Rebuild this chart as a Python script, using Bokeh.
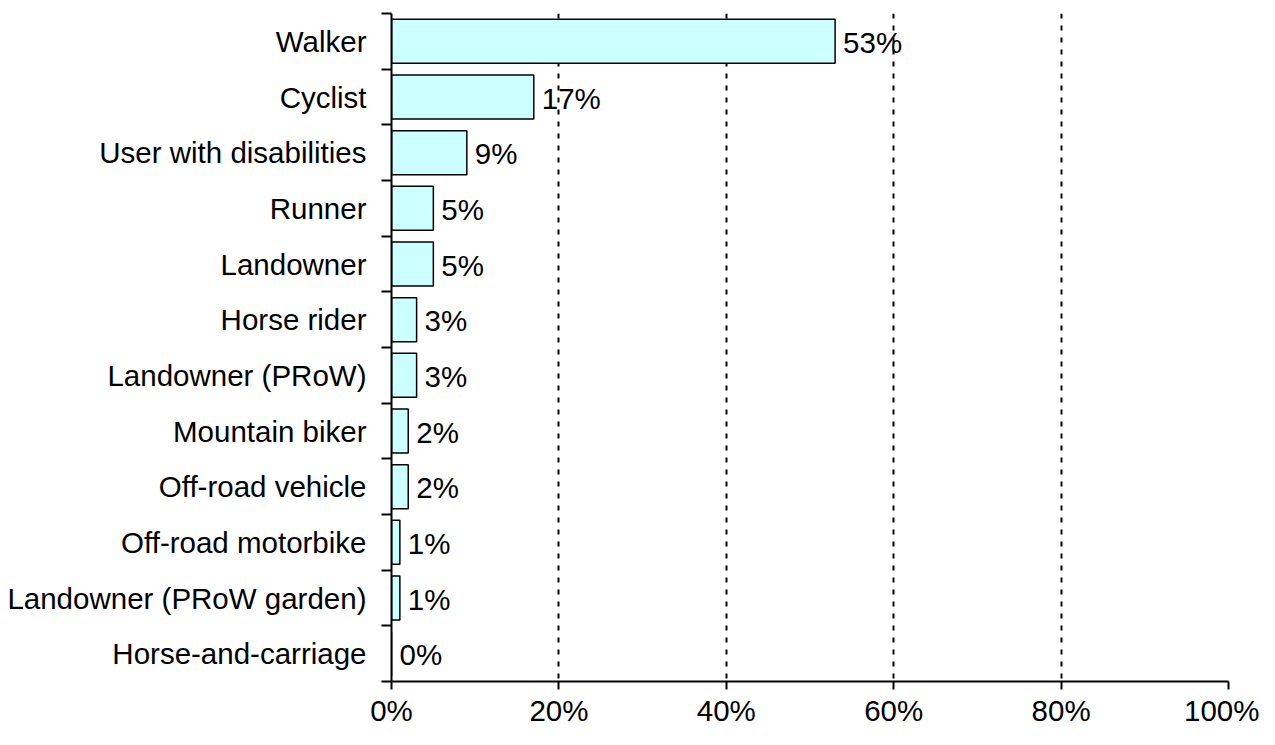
from bokeh.plotting import figure
from bokeh.models import Range1d, FixedTicker, PrintfTickFormatter, ColumnDataSource
from bokeh.core.properties import value
from bokeh.embed import file_html
from bokeh.resources import INLINE

categories = ["Walker", "Cyclist", "User with disabilities", "Runner", "Landowner",
              "Horse rider", "Landowner (PRoW)", "Mountain biker", "Off-road vehicle",
              "Off-road motorbike", "Landowner (PRoW garden)", "Horse-and-carriage"]
values = [53, 17, 9, 5, 5, 3, 3, 2, 2, 1, 1, 0]
x_ticks = [0, 20, 40, 60, 80, 100]

FONT = "Liberation Sans"
FS = "29.5px"

n = len(categories)
pos = list(range(n))
src = ColumnDataSource(dict(y=pos, v=values, lab=[f"{v}%" for v in values]))

p = figure(width=1259, height=729, output_backend="svg", toolbar_location=None,
           x_range=Range1d(0, 100), y_range=Range1d(n - 0.5, -0.5),
           min_border_left=391, min_border_right=31, min_border_top=13, min_border_bottom=45)
p.outline_line_color = None
p.background_fill_color = "white"
p.border_fill_color = "white"

p.hbar(y="y", right="v", left=0, height=0.79, source=src,
       fill_color="#CCFFFF", line_color="black", line_width=1.5)
p.text(x="v", y="y", text="lab", source=src, x_offset=8, y_offset=1, text_baseline="middle",
       text_align="left", text_font=value(FONT), text_font_size=FS, text_color="black")

# x axis
xa = p.xaxis[0]
xa.ticker = FixedTicker(ticks=x_ticks)
xa.formatter = PrintfTickFormatter(format="%d%%")
xa.axis_line_color = "black"
xa.axis_line_width = 2
xa.major_tick_line_color = "black"
xa.major_tick_line_width = 2
xa.major_tick_out = 8
xa.major_tick_in = 0
xa.minor_tick_line_color = None
xa.major_label_text_font = FONT
xa.major_label_text_font_size = FS
xa.major_label_text_color = "black"
xa.major_label_standoff = 4

# y axis
ya = p.yaxis[0]
ya.ticker = FixedTicker(ticks=pos, minor_ticks=[i - 0.5 for i in range(n + 1)])
ya.major_label_overrides = {i: c for i, c in enumerate(categories)}
ya.axis_line_color = "black"
ya.axis_line_width = 2
ya.major_tick_out = 0
ya.major_tick_in = 0
ya.major_tick_line_color = None
ya.minor_tick_out = 10
ya.minor_tick_in = 0
ya.minor_tick_line_color = "black"
ya.minor_tick_line_width = 2
ya.major_label_text_font = FONT
ya.major_label_text_font_size = FS
ya.major_label_text_color = "black"
ya.major_label_standoff = 15

p.xgrid.ticker = FixedTicker(ticks=x_ticks)
p.xgrid.grid_line_color = "black"
p.xgrid.grid_line_width = 2
p.xgrid.grid_line_dash = "5 7"
p.ygrid.grid_line_color = None

open("out.html", "w").write(file_html(p, INLINE))
